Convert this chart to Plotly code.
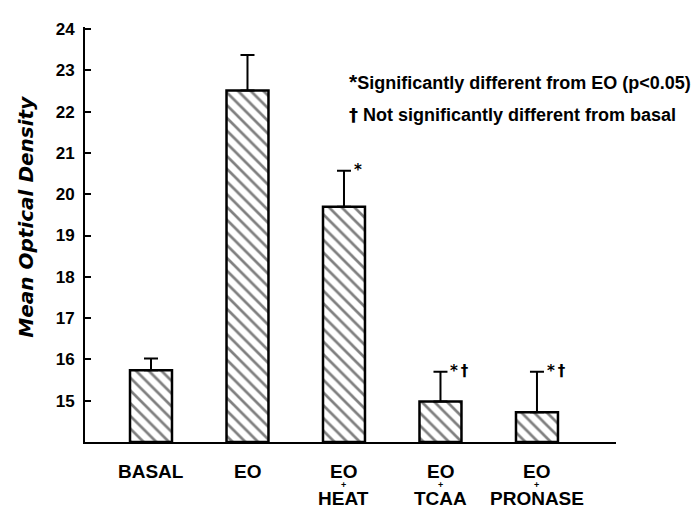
import plotly.graph_objects as go

# ---- data ----
categories = ["BASAL", "EO", "EO + HEAT", "EO + TCAA", "EO + PRONASE"]
label_top = ["BASAL", "EO", "EO", "EO", "EO"]
label_mid = ["", "", "+", "+", "+"]
label_bottom = ["", "", "HEAT", "TCAA", "PRONASE"]
means = [15.74, 22.51, 19.70, 14.98, 14.72]
errors = [0.28, 0.86, 0.87, 0.72, 0.98]
markers = ["", "", "*", "*\u2009†", "*\u2009†"]
y_ticks = [15, 16, 17, 18, 19, 20, 21, 22, 23, 24]
note_lines = ["Significantly different from EO (p<0.05)",
              "Not significantly different from basal"]

# ---- layout (positions, styles) ----
FONT = "Liberation Sans, Arial, sans-serif"
FONT2 = "DejaVu Sans, sans-serif"
bar_width = 0.435

fig = go.Figure()
fig.add_trace(go.Bar(
    x=categories, y=[m - 14 for m in means], base=14,
    width=bar_width,
    marker=dict(color="white", line=dict(color="black", width=2.5),
                pattern=dict(shape="\\", size=9, solidity=0.3,
                             fgcolor="black", bgcolor="white")),
    error_y=dict(type="data", symmetric=False, array=errors,
                 arrayminus=[0] * len(errors), color="black",
                 thickness=2, width=7),
    showlegend=False,
))

annotations = []
for i, (m, e, mk) in enumerate(zip(means, errors, markers)):
    if mk:
        annotations.append(dict(x=i, y=m + e, text=mk, xref="x", yref="y",
                                xanchor="left", yanchor="middle", xshift=8, yshift=1,
                                showarrow=False,
                                font=dict(family=FONT2, size=15, weight="bold", color="black")))

# category labels: top line with small "+" underneath, then bottom line
for i in range(len(categories)):
    txt = "<span style='font-size:19px'>" + label_top[i] + "</span>"
    if label_mid[i]:
        txt += "<br><span style='font-size:9px'>" + label_mid[i] + "</span>"
    annotations.append(dict(x=i, y=0, xref="x", yref="paper", yshift=-18,
                            text=txt, showarrow=False, xanchor="center",
                            yanchor="top", borderpad=0, align="center",
                            font=dict(family=FONT, size=7.8, weight="bold", color="black")))
    if label_bottom[i]:
        annotations.append(dict(x=i, y=0, xref="x", yref="paper", yshift=-56,
                                text=label_bottom[i], showarrow=False, xanchor="center",
                                yanchor="middle", borderpad=0,
                                font=dict(family=FONT, size=19, weight="bold", color="black")))

# footnotes
annotations += [
    dict(x=0, y=1, xref="paper", yref="paper", xshift=262, yshift=-54,
         xanchor="left", yanchor="middle", showarrow=False,
         text="<span style='font-size:21px'>*</span>" + note_lines[0],
         font=dict(family=FONT, size=18, weight="bold", color="black")),
    dict(x=0, y=1, xref="paper", yref="paper", xshift=262, yshift=-87,
         xanchor="left", yanchor="middle", showarrow=False,
         text="<span style='font-family:DejaVu Sans'>†</span> " + note_lines[1],
         font=dict(family=FONT, size=18, weight="bold", color="black")),
]

# y-axis title
annotations.append(dict(x=0, y=0.543, xref="paper", yref="paper", xshift=-59,
                        xanchor="center", yanchor="middle", textangle=-90,
                        text="Mean Optical Density", showarrow=False,
                        font=dict(family=FONT2, size=20, weight="bold", style="italic",
                                  color="black")))

fig.update_layout(
    width=699, height=505,
    margin=dict(l=77, r=91, t=16, b=71),
    paper_bgcolor="white", plot_bgcolor="white",
    font=dict(family=FONT, color="black"),
    annotations=annotations,
    xaxis=dict(type="category", range=[-0.684, 4.819], showticklabels=False,
               showline=True, linecolor="black", linewidth=1.5, showgrid=False,
               zeroline=False, ticks=""),
    yaxis=dict(range=[14, 24.05], tickvals=y_ticks, showline=True, linecolor="black",
               linewidth=2, showgrid=False, zeroline=False, ticks="inside", ticklen=6,
               tickwidth=1.5, tickcolor="black", ticklabelstandoff=5,
               tickfont=dict(family=FONT, size=17, weight="bold", color="black")),
)

fig.write_html("out.html")
